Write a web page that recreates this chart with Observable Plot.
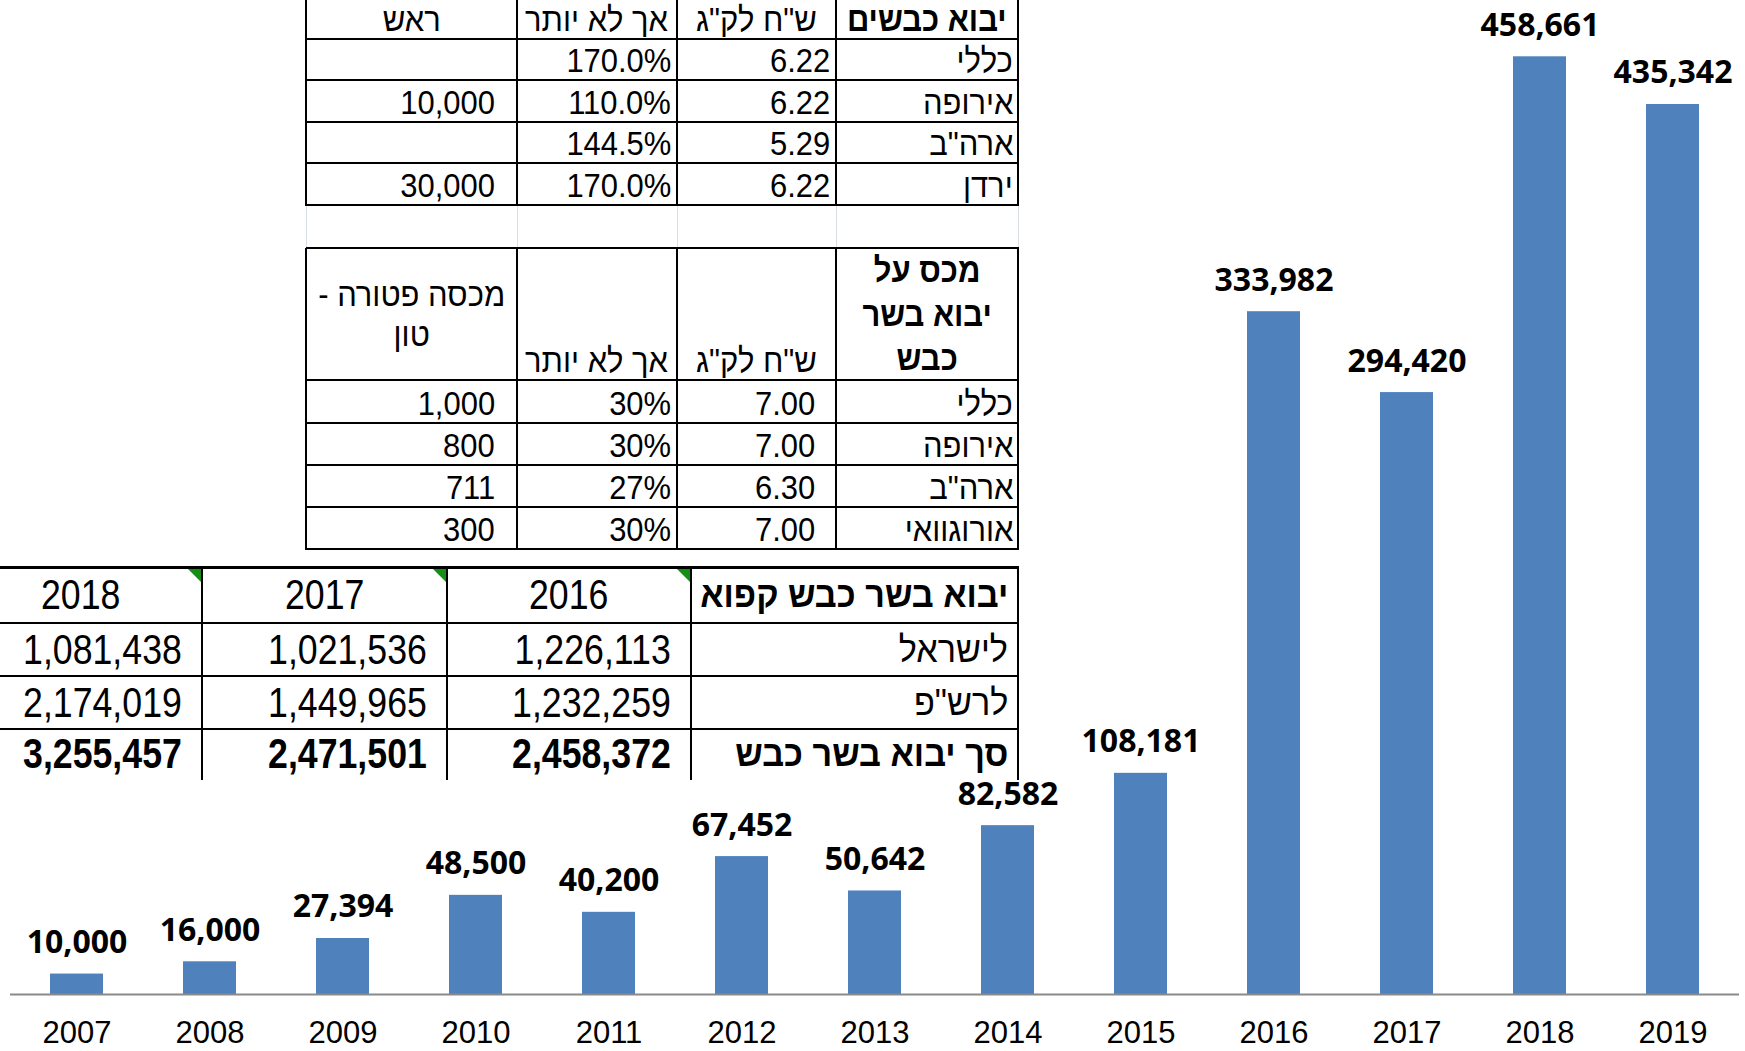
<!DOCTYPE html>
<html><head><meta charset="utf-8">
<script src="https://cdn.jsdelivr.net/npm/d3@7"></script>
<script src="https://cdn.jsdelivr.net/npm/@observablehq/plot@0.6"></script>
<style>
html,body{margin:0;padding:0;background:#fff;overflow:hidden;}
#wrap{position:relative;width:1745px;height:1051px;overflow:hidden;background:#fff;}
#chart{position:absolute;left:0;top:0;}
.cell{position:absolute;display:flex;box-sizing:border-box;color:#000;}
.cell span{direction:rtl;white-space:pre;unicode-bidi:plaintext;}
.line{position:absolute;}
</style></head><body><div id="wrap"><div id="chart"></div></div>
<script>
// ---- chart data ----
const years = ["2007","2008","2009","2010","2011","2012","2013","2014","2015","2016","2017","2018","2019"];
const imports = [10000,16000,27394,48500,40200,67452,50642,82582,108181,333982,294420,458661,435342];

// ---- table 1: יבוא כבשים ----
const t1Header = ["יבוא כבשים", "ש\"ח לק\"ג", "אך לא יותר", "ראש"];
const t1Labels = ["כללי", "אירופה", "ארה\"ב", "ירדן"];
const t1PerKg = ["6.22", "6.22", "5.29", "6.22"];
const t1Max = ["170.0%", "110.0%", "144.5%", "170.0%"];
const t1Head = ["", "10,000", "", "30,000"];

// ---- table 2: מכס על יבוא בשר כבש ----
const t2Header = ["מכס על\nיבוא בשר\nכבש", "ש\"ח לק\"ג", "אך לא יותר", "מכסה פטורה -\nטון"];
const t2Labels = ["כללי", "אירופה", "ארה\"ב", "אורוגוואי"];
const t2PerKg = ["7.00", "7.00", "6.30", "7.00"];
const t2Max = ["30%", "30%", "27%", "30%"];
const t2Quota = ["1,000", "800", "711", "300"];

// ---- table 3: יבוא בשר כבש קפוא ----
const t3Header = ["יבוא בשר כבש קפוא", "2016", "2017", "2018"];
const t3Labels = ["לישראל", "לרש\"פ", "סך יבוא בשר כבש"];
const t3Y2016 = ["1,226,113", "1,232,259", "2,458,372"];
const t3Y2017 = ["1,021,536", "1,449,965", "2,471,501"];
const t3Y2018 = ["1,081,438", "2,174,019", "3,255,457"];

// ---- chart ----
const data = years.map((y, i) => ({year: y, value: imports[i]}));
const fmt = d3.format(",");
const chart = Plot.plot({
  width: 1745, height: 1051,
  marginTop: 0, marginBottom: 57, marginLeft: 10, marginRight: 6,
  x: {domain: years, paddingInner: 0.602, paddingOuter: 0.301, axis: null, label: null},
  y: {domain: [0, 486200], axis: null},
  style: {background: "transparent", color: "#000", fontFamily: "'Liberation Sans', Arial, sans-serif", overflow: "visible"},
  marks: [
    Plot.barY(data, {x: "year", y: "value", fill: "#4F81BD"}),
    Plot.ruleY([0], {stroke: "#8a8a8a", strokeWidth: 2}),
    Plot.axisX({tickSize: 0, tickPadding: 26, fontSize: 31, fill: "#000", label: null,
      fontFamily: "'Liberation Sans', Arial, sans-serif"}),
    Plot.text(data, {x: "year", y: "value", text: d => fmt(d.value), dy: -21, lineAnchor: "bottom",
      fontSize: 32, fontWeight: 700, fontFamily: "'Open Sans', 'Noto Sans', sans-serif", fill: "#000"})
  ]
});
document.getElementById("chart").appendChild(chart);

// ---- tables (HTML overlay) ----
const wrap = document.getElementById("wrap");
function addBox(x, y, w, h, color) {
  const d = document.createElement("div");
  d.className = "line";
  Object.assign(d.style, {left: x + "px", top: y + "px", width: w + "px", height: h + "px", background: color});
  wrap.appendChild(d);
}
function addCell(x0, x1, y0, y1, text, st) {
  const d = document.createElement("div");
  d.className = "cell";
  Object.assign(d.style, {
    left: x0 + "px", top: y0 + "px", width: (x1 - x0) + "px", height: (y1 - y0) + "px",
    justifyContent: st.h === "center" ? "center" : "flex-end",
    alignItems: st.v === "center" ? "center" : "flex-end",
    paddingRight: (st.pr || 0) + "px", paddingBottom: (st.pb || 0) + "px",
    fontFamily: st.font, fontSize: st.size + "px", fontWeight: st.bold ? 700 : 400,
    lineHeight: (st.lh || st.size) + "px", textAlign: st.h === "center" ? "center" : "right"
  });
  const s = document.createElement("span");
  s.textContent = text;
  if (st.sx) { s.style.display = "inline-block"; s.style.transform = `scaleX(${st.sx})`; s.style.transformOrigin = st.h === "center" ? "center" : "right"; }
  d.appendChild(s);
  wrap.appendChild(d);
}
// columns given right-to-left (index 0 = rightmost)
function drawTable({xs, ys, rows, styles, noBottom, topW, bg}) {
  const n = xs.length - 1, last = ys.length - 1;
  addBox(xs[0], ys[0], xs[n] - xs[0], ys[last] - ys[0], bg || "#fff");
  rows.forEach((row, r) => row.forEach((txt, c) => {
    const vc = n - 1 - c;
    addCell(xs[vc], xs[vc + 1], ys[r], ys[r + 1], txt, styles(r, c));
  }));
  xs.forEach(x => addBox(x - 1, ys[0], 2, ys[last] - ys[0] + 1, "#000"));
  ys.forEach((y, i) => {
    if (noBottom && i === last) return;
    const w = i === 0 ? (topW || 2) : 2;
    addBox(xs[0], y - w / 2, xs[n] - xs[0] + 1, w, "#000");
  });
}
const F1 = "'Liberation Sans', Arial, sans-serif";
const cols12 = [306, 517, 677, 836, 1018];
const S12 = 34, SX12 = 0.91;

// faint empty-row gridlines between table 1 and 2
cols12.forEach(x => addBox(x, 205, 1, 43, "#d9dde6"));

drawTable({
  xs: cols12, ys: [-2, 39, 80, 122, 163, 205],
  rows: [t1Header, ...t1Labels.map((l, i) => [l, t1PerKg[i], t1Max[i], t1Head[i]])],
  styles: (r, c) => {
    if (r === 0) return {h: "center", v: "bottom", pb: 3, font: F1, size: S12, sx: SX12, bold: c === 0};
    return {h: "right", v: "bottom", pb: 3, font: F1, size: S12, sx: SX12, pr: [5, 6, 6, 22][c]};
  }
});
drawTable({
  xs: cols12, ys: [248, 380, 423, 465, 507, 549],
  rows: [t2Header, ...t2Labels.map((l, i) => [l, t2PerKg[i], t2Max[i], t2Quota[i]])],
  styles: (r, c) => {
    if (r === 0) {
      if (c === 0) return {h: "center", v: "center", font: F1, size: S12, sx: SX12, bold: true, lh: 44};
      if (c === 3) return {h: "center", v: "center", font: F1, size: S12, sx: SX12, lh: 40};
      return {h: "center", v: "bottom", pb: 3, font: F1, size: S12, sx: SX12};
    }
    return {h: "right", v: "bottom", pb: 3, font: F1, size: S12, sx: SX12, pr: [5, 21, 6, 22][c]};
  }
});
drawTable({
  xs: [-41, 202, 447, 691, 1018], ys: [567, 623, 676, 729, 779], noBottom: true, topW: 3,
  rows: [t3Header, ...t3Labels.map((l, i) => [l, t3Y2016[i], t3Y2017[i], t3Y2018[i]])],
  styles: (r, c) => {
    if (r === 0) return c === 0 ? {h: "right", v: "center", font: F1, size: 36, bold: true, pr: 10, sx: 0.95}
                                : {h: "center", v: "center", font: F1, size: 42, sx: 0.85};
    const bold = r === 3;
    if (c === 0) return {h: "right", v: "center", font: F1, size: 36, bold, pr: 10, sx: 0.95};
    return {h: "right", v: "center", font: F1, size: 42, bold, pr: 20, sx: 0.85};
  }
});
// green indicator triangles on year headers
[691, 447, 202].forEach(x => {
  const t = document.createElement("div");
  Object.assign(t.style, {position: "absolute", left: (x - 14) + "px", top: "569px", width: "13px", height: "13px",
    background: "#139013", clipPath: "polygon(0 0, 100% 0, 100% 100%)"});
  wrap.appendChild(t);
});
</script></body></html>
